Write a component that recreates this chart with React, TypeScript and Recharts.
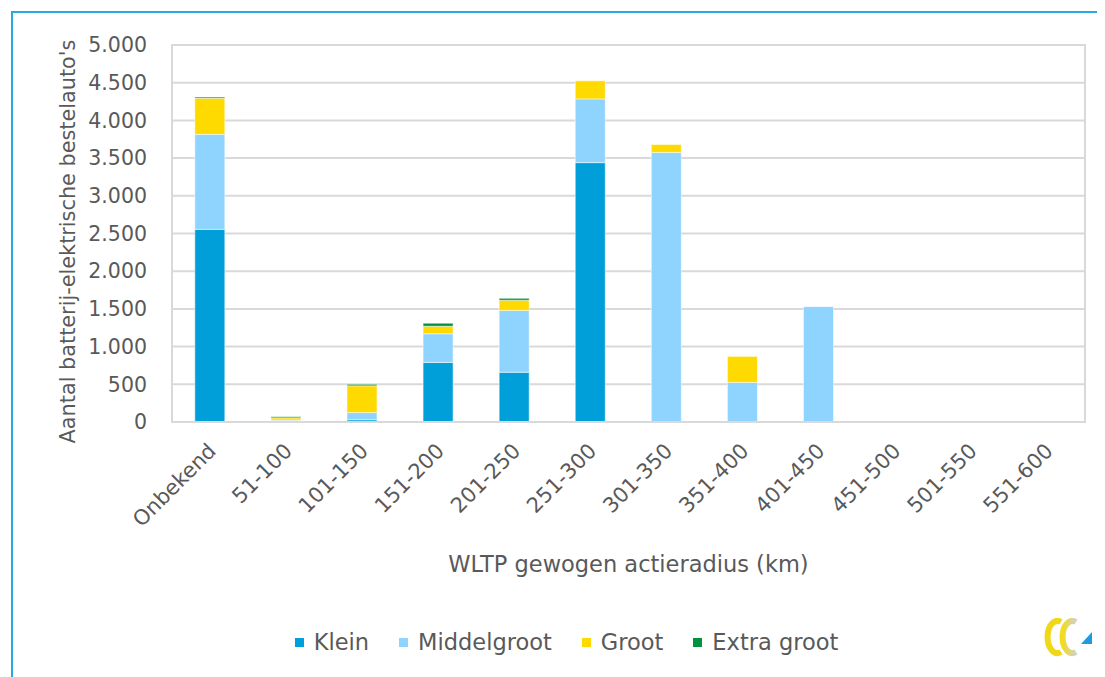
import React from 'react';
import { BarChart, Bar, XAxis, YAxis, CartesianGrid, Legend, ReferenceArea, Label } from 'recharts';

const categories = ['Onbekend', '51-100', '101-150', '151-200', '201-250', '251-300', '301-350', '351-400', '401-450', '451-500', '501-550', '551-600'];
const klein = [2555, 15, 30, 790, 660, 3440, 0, 0, 0, 0, 0, 0];
const middelgroot = [1260, 10, 95, 380, 820, 845, 3575, 525, 1530, 0, 0, 0];
const groot = [480, 30, 355, 100, 135, 240, 105, 345, 0, 0, 0, 0];
const extraGroot = [15, 15, 20, 40, 25, 0, 0, 0, 0, 0, 0, 0];
const yTicks = [0, 500, 1000, 1500, 2000, 2500, 3000, 3500, 4000, 4500, 5000];

const series = [
  { key: 'Klein', values: klein, color: '#009FDA' },
  { key: 'Middelgroot', values: middelgroot, color: '#8FD3FF' },
  { key: 'Groot', values: groot, color: '#FFDA00' },
  { key: 'Extra groot', values: extraGroot, color: '#00923F' },
];

const data = categories.map((c, i) => {
  const row: any = { name: c };
  series.forEach((s) => { row[s.key] = s.values[i]; });
  return row;
});

const FONT = '"DejaVu Sans", sans-serif';
const TEXT = '#595959';

const fmt = (v: number) => {
  const s = String(Math.round(v));
  return s.replace(/\B(?=(\d{3})+(?!\d))/g, '.');
};

const XTick = (props: any) => {
  const { x, y, payload } = props;
  return (
    <g transform={`translate(${x + 2},${y + 17})`}>
      <text transform="rotate(-45)" textAnchor="end" dy="0.35em" fill={TEXT} fontSize={21} fontFamily={FONT}>
        {payload.value}
      </text>
    </g>
  );
};

const LegendContent = () => (
  <div style={{ display: 'flex', justifyContent: 'center', fontFamily: FONT, fontSize: 22.5, color: TEXT, paddingLeft: 40 }}>
    {series.map((s, i) => (
      <div key={s.key} style={{ display: 'flex', alignItems: 'center', marginLeft: i === 0 ? 0 : 30 }}>
        <div style={{ width: 9, height: 9, background: s.color, marginRight: 10 }} />
        <span>{s.key}</span>
      </div>
    ))}
  </div>
);

const Logo = () => (
  <svg width={58} height={42} style={{ position: 'absolute', left: 1034, top: 610 }}>
    <defs>
      <linearGradient id="lg2" x1="0" y1="0" x2="1" y2="0">
        <stop offset="0" stopColor="#F2DC1C" />
        <stop offset="1" stopColor="#D0D0D0" />
      </linearGradient>
    </defs>
    <path d="M19 4 A10 16 0 1 0 19 34" fill="none" stroke="#F0D817" strokeWidth={6} />
    <path d="M34 4 A10 16 0 1 0 34 34" fill="none" stroke="url(#lg2)" strokeWidth={6} />
    <polygon points="50,14 50,26 39,26" fill="#1E9BE0" />
  </svg>
);

export default function App() {
  return (
    <div style={{ position: 'relative', width: 1097, height: 669 }}>
      <div style={{ position: 'absolute', left: 3, top: 3, right: -8, bottom: -8, borderTop: '2px solid #27A9E1', borderLeft: '2px solid #27A9E1' }} />
      <div style={{ position: 'absolute', left: 0, top: 0 }}>
        <BarChart
          width={1097}
          height={669}
          data={data}
          margin={{ top: 37, right: 20, bottom: 0, left: 0 }}
          barCategoryGap="30%"
        >
          <CartesianGrid vertical={false} stroke="#D9D9D9" strokeWidth={2} />
          <ReferenceArea y1={0} y2={5000} fill="none" stroke="#D9D9D9" strokeWidth={2} ifOverflow="visible" />
          <XAxis
            dataKey="name"
            interval={0}
            tickLine={false}
            axisLine={{ stroke: '#D9D9D9', strokeWidth: 2 }}
            tick={<XTick />}
            height={229}
          >
            <Label
              content={(p: any) => {
                const vb = p.viewBox;
                return (
                  <text x={vb.x + vb.width / 2} y={vb.y + 150} textAnchor="middle" fill={TEXT} fontSize={22.5} fontFamily={FONT}>
                    WLTP gewogen actieradius (km)
                  </text>
                );
              }}
            />
          </XAxis>
          <YAxis
            domain={[0, 5000]}
            ticks={yTicks}
            interval={0}
            width={164}
            tickLine={false}
            tickMargin={19}
            tickFormatter={fmt}
            axisLine={{ stroke: '#D9D9D9', strokeWidth: 2 }}
            tick={{ fill: TEXT, fontSize: 20.5, fontFamily: FONT }}
          >
            <Label
              content={(p: any) => {
                const vb = p.viewBox;
                const cy = vb.y + vb.height / 2 + 8;
                return (
                  <text x={60} y={cy} transform={`rotate(-90, 60, ${cy})`} textAnchor="middle" dominantBaseline="central" fill={TEXT} fontSize={20.8} fontFamily={FONT}>
                    Aantal batterij-elektrische bestelauto's
                  </text>
                );
              }}
            />
          </YAxis>
          <Legend verticalAlign="bottom" content={<LegendContent />} wrapperStyle={{ bottom: 22 }} />
          {series.map((s) => (
            <Bar key={s.key} dataKey={s.key} stackId="a" fill={s.color} stroke="#FFFFFF" strokeOpacity={0.5} strokeWidth={1} isAnimationActive={false} />
          ))}
        </BarChart>
      </div>
      <Logo />
    </div>
  );
}
